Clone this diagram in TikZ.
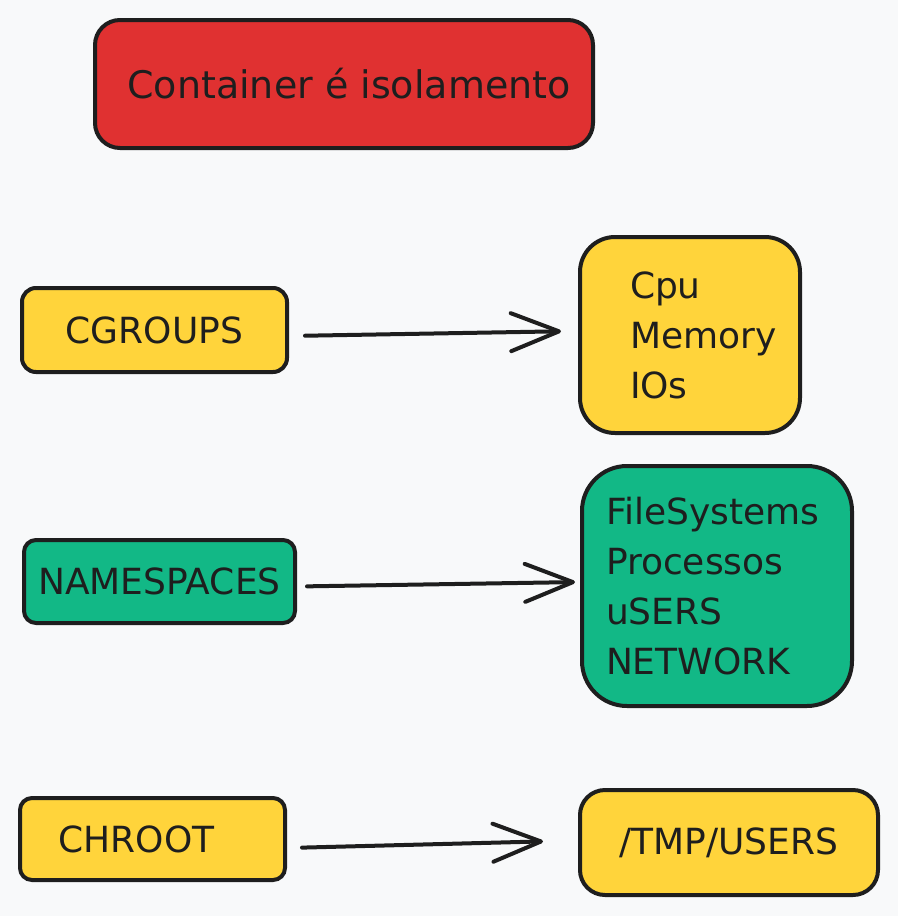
\documentclass[tikz,border=0pt]{standalone}
\usepackage{fontspec}
\usepackage{xcolor}
\usepackage{tikz}
\usetikzlibrary{arrows.meta}
\setmainfont{DejaVu Sans}

\definecolor{bgcol}{HTML}{F8F9FA}
\definecolor{inkcol}{HTML}{1E1E1E}
\definecolor{redcol}{HTML}{E03131}
\definecolor{yellowcol}{HTML}{FFD43B}
\definecolor{greencol}{HTML}{12B886}

\tikzset{
  box/.style={draw=inkcol, line width=4pt, inner sep=0pt, font=\fontsize{36}{50}\selectfont, text=inkcol},
  arrow/.style={draw=inkcol, line width=4pt, line cap=round, -{Straight Barb[length=48pt,width=38pt,round]}}
}

\begin{document}
\begin{tikzpicture}[x=1pt, y=1pt]
  % Background
  \fill[bgcol] (0,0) rectangle (898,-916);
  \useasboundingbox (0,0) rectangle (898,-916);

  % Title box
  \node[box, fill=redcol, rounded corners=25pt, minimum width=498pt, minimum height=128pt,
        font=\fontsize{38}{50}\selectfont] (title) at (344,-84) {\hspace*{10pt}Container é isolamento};

  % Left column
  \node[box, fill=yellowcol, rounded corners=14pt, minimum width=265pt, minimum height=84pt] (cgroups) at (154.5,-330) {CGROUPS};
  \node[box, fill=greencol, rounded corners=12pt, minimum width=271pt, minimum height=83pt] (namespaces) at (159.5,-581.5) {NAMESPACES};
  \node[box, fill=yellowcol, rounded corners=12pt, minimum width=265pt, minimum height=82pt] (chroot) at (152.5,-839) {\hspace*{-32pt}CHROOT};

  % Right column
  \node[box, fill=yellowcol, rounded corners=35pt, minimum width=220pt, minimum height=196pt,
        inner xsep=50pt, text width=120pt, align=left] (cpu) at (690,-335) {Cpu\\Memory\\IOs};
  \node[box, fill=greencol, rounded corners=45pt, minimum width=270pt, minimum height=240pt,
        inner xsep=24pt, text width=222pt, align=left] (fs) at (717,-586) {FileSystems\\Processos\\uSERS\\NETWORK};
  \node[box, fill=yellowcol, rounded corners=25pt, minimum width=298pt, minimum height=105pt] (tmp) at (729,-842.5) {/TMP/USERS};

  % Arrows
  \draw[arrow, shorten <=16pt, shorten >=17pt] ([yshift=-6pt]cgroups.east) -- ([yshift=4pt]cpu.west);
  \draw[arrow, shorten <=10pt, shorten >=5pt] ([yshift=-5pt]namespaces.east) -- ([yshift=4pt]fs.west);
  \draw[arrow, shorten <=15pt, shorten >=35pt] ([yshift=-9pt]chroot.east) -- ([yshift=2pt]tmp.west);
\end{tikzpicture}
\end{document}
